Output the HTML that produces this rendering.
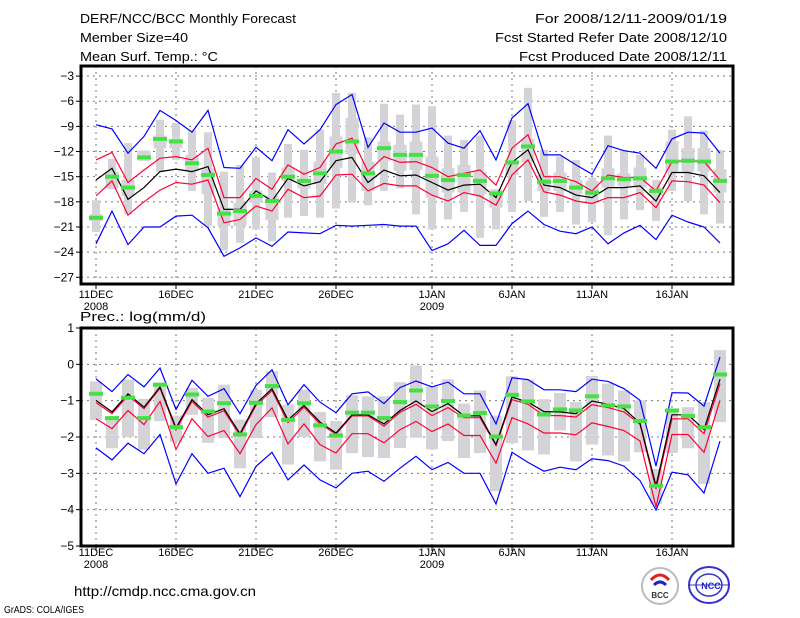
<!DOCTYPE html>
<html><head><meta charset="utf-8"><title>DERF Monthly Forecast</title>
<style>
html,body{margin:0;padding:0;background:#fff;}
svg{display:block;font-family:"Liberation Sans",sans-serif;}
</style></head>
<body>
<svg id="chart" width="800" height="618" viewBox="0 0 800 618" xmlns="http://www.w3.org/2000/svg">
<g font-size="13" fill="#000">
<text x="80" y="23" textLength="216" lengthAdjust="spacingAndGlyphs">DERF/NCC/BCC Monthly Forecast</text>
<text x="80" y="42" textLength="108" lengthAdjust="spacingAndGlyphs">Member Size=40</text>
<text x="80" y="61" textLength="138" lengthAdjust="spacingAndGlyphs">Mean Surf. Temp.: °C</text>
<text x="535" y="23" textLength="192" lengthAdjust="spacingAndGlyphs">For 2008/12/11-2009/01/19</text>
<text x="495" y="42" textLength="232" lengthAdjust="spacingAndGlyphs">Fcst Started Refer Date 2008/12/10</text>
<text x="519" y="61" textLength="208" lengthAdjust="spacingAndGlyphs">Fcst Produced Date 2008/12/11</text>
</g>
<g id="top"></g>
<g id="bot"></g>
<text x="80" y="321" font-size="13" textLength="126" lengthAdjust="spacingAndGlyphs">Prec.: log(mm/d)</text>
<text x="74" y="596" font-size="14" textLength="182" lengthAdjust="spacingAndGlyphs">http://cmdp.ncc.cma.gov.cn</text>
<text x="4" y="613" font-size="10" textLength="80" lengthAdjust="spacingAndGlyphs">GrADS: COLA/IGES</text>
<g>
<circle cx="660" cy="586" r="18" fill="#fff" stroke="#bbb" stroke-width="2"/>
<path d="M651 580 q9 -10 18 0" fill="none" stroke="#d22" stroke-width="3"/>
<path d="M654 585 q6 -6 12 0" fill="none" stroke="#22c" stroke-width="3"/>
<text x="660" y="598" font-size="8" font-weight="bold" text-anchor="middle" fill="#333">BCC</text>
</g>
<g>
<ellipse cx="709" cy="585" rx="20" ry="18" fill="#fff" stroke="#33c" stroke-width="2"/>
<ellipse cx="709" cy="585" rx="13" ry="11" fill="none" stroke="#33c" stroke-width="1.5"/>
<line x1="690" y1="585" x2="728" y2="585" stroke="#33c"/>
<text x="711" y="589" font-size="9" font-weight="bold" text-anchor="middle" fill="#22c">NCC</text>
</g>
</svg>
<script>
// ---------- Temperature panel data ----------
var tMax=[-8.8,-9.3,-12.2,-10.2,-7.1,-8.3,-9.7,-7.1,-13.9,-14.0,-11.5,-13.1,-9.4,-11.1,-9.4,-6.4,-5.2,-11.5,-8.6,-9.7,-9.7,-9.2,-11.0,-11.6,-9.5,-13.0,-8.0,-6.3,-12.4,-12.4,-13.6,-14.7,-11.3,-11.9,-12.2,-14.0,-10.5,-9.7,-9.8,-12.2];
var tUp=[-13.0,-12.1,-15.7,-14.2,-12.8,-12.6,-13.0,-11.6,-17.5,-17.5,-15.2,-16.5,-13.6,-14.7,-13.9,-11.1,-10.4,-14.4,-12.6,-13.3,-13.2,-13.9,-15.0,-14.6,-14.2,-16.0,-11.6,-10.0,-15.0,-15.0,-15.6,-16.7,-14.8,-15.1,-15.1,-16.7,-13.2,-13.1,-13.2,-15.4];
var tMean=[-15.4,-14.0,-17.7,-16.3,-14.4,-14.1,-14.4,-13.8,-18.9,-18.9,-16.7,-17.9,-15.2,-16.1,-15.6,-13.1,-12.7,-15.7,-14.2,-14.9,-14.8,-15.7,-16.6,-16.0,-15.9,-17.5,-13.3,-11.8,-16.0,-16.3,-17.2,-17.5,-16.3,-16.3,-16.1,-17.9,-14.5,-14.5,-14.9,-16.9];
var tLow=[-17.3,-15.5,-19.6,-18.0,-16.6,-15.7,-15.9,-15.4,-20.5,-20.1,-18.5,-19.1,-16.5,-17.5,-17.3,-14.8,-14.7,-16.7,-15.8,-16.1,-16.1,-17.2,-17.9,-16.9,-17.3,-18.4,-14.8,-13.0,-16.8,-17.2,-17.9,-18.2,-17.5,-17.5,-16.9,-18.7,-15.5,-15.6,-16.0,-18.1];
var tMin=[-23.0,-19.1,-23.1,-21.0,-21.0,-19.7,-19.6,-21.1,-24.5,-23.5,-22.3,-23.3,-21.6,-21.7,-21.8,-20.8,-20.9,-20.8,-20.7,-20.9,-20.9,-23.8,-23.0,-21.4,-23.2,-23.2,-20.6,-19.1,-20.7,-21.5,-21.8,-21.0,-23.0,-21.7,-20.8,-22.5,-19.6,-20.4,-21.0,-22.9];
var tObs=[-19.9,-15.0,-16.3,-12.7,-10.5,-10.8,-13.4,-14.8,-19.4,-19.1,-17.3,-17.9,-15.0,-15.5,-14.6,-12.0,-10.8,-14.6,-11.6,-12.4,-12.4,-14.9,-15.4,-14.8,-15.5,-17.0,-13.3,-11.4,-15.6,-15.5,-16.3,-16.9,-15.2,-15.3,-15.2,-16.7,-13.2,-13.1,-13.2,-15.5];
var tBarHi=[-17.8,-12.9,-11.0,-11.9,-8.2,-8.6,-9.4,-9.7,-14.4,-13.6,-12.7,-14.5,-11.1,-11.8,-9.4,-5.0,-5.0,-10.3,-6.3,-7.6,-6.4,-6.6,-10.1,-10.6,-10.1,-16.5,-8.3,-4.4,-11.8,-12.6,-13.0,-15.1,-10.1,-11.8,-12.4,-15.4,-9.4,-7.8,-9.5,-11.8];
var tBarLo=[-21.6,-16.5,-19.5,-13.1,-14.4,-13.0,-16.7,-20.9,-23.8,-22.9,-21.3,-22.7,-19.9,-19.7,-19.9,-18.8,-18.1,-18.4,-16.7,-16.4,-19.5,-21.3,-20.1,-19.2,-22.3,-21.3,-19.2,-17.9,-19.8,-19.2,-20.7,-20.4,-22.0,-20.1,-19.0,-20.3,-16.7,-17.9,-19.5,-20.6];
var tBoxHi=[-19.5,-14.4,-15.4,-11.9,-10.1,-10.5,-12.4,-14.0,-18.7,-18.1,-16.7,-17.3,-13.9,-15.4,-13.2,-10.2,-8.0,-13.2,-10.8,-11.2,-10.8,-12.6,-14.0,-13.6,-14.4,-16.5,-13.2,-10.5,-14.8,-14.5,-15.4,-15.5,-14.0,-14.6,-13.9,-16.3,-10.8,-11.6,-11.6,-14.1];
var tBoxLo=[-20.3,-16.4,-17.3,-13.1,-11.6,-11.6,-14.4,-17.1,-20.9,-20.9,-18.1,-20.2,-15.5,-16.4,-15.9,-14.0,-12.3,-16.7,-13.1,-14.3,-14.2,-17.5,-16.9,-16.9,-17.1,-18.7,-14.8,-13.3,-16.7,-16.7,-17.1,-17.9,-16.3,-16.1,-16.3,-17.3,-14.4,-14.4,-14.4,-16.9];
var tTicks=[-3,-6,-9,-12,-15,-18,-21,-24,-27];
// ---------- Precipitation panel data ----------
var pMax=[-0.40,-0.75,-0.28,-0.62,-0.10,-1.24,-0.44,-0.88,-0.67,-1.36,-0.58,-0.15,-1.11,-0.56,-1.04,-1.33,-0.81,-0.76,-1.08,-0.64,-0.46,-0.62,-0.49,-0.81,-0.81,-1.64,-0.37,-0.42,-0.70,-0.70,-0.75,-0.41,-0.47,-0.67,-0.99,-2.80,-0.78,-0.79,-1.15,0.20];
var pUp=[-1.05,-1.36,-0.86,-1.22,-0.66,-1.80,-1.02,-1.45,-1.28,-1.96,-1.13,-0.72,-1.60,-1.18,-1.64,-1.92,-1.42,-1.42,-1.70,-1.32,-1.10,-1.41,-1.19,-1.47,-1.47,-2.23,-0.97,-1.10,-1.41,-1.41,-1.45,-1.11,-1.19,-1.31,-1.65,-3.43,-1.50,-1.50,-1.91,-0.53];
var pMean=[-0.99,-1.31,-0.81,-1.18,-0.62,-1.75,-0.97,-1.39,-1.22,-1.91,-1.08,-0.67,-1.53,-1.13,-1.59,-1.89,-1.39,-1.39,-1.64,-1.27,-1.01,-1.30,-1.08,-1.42,-1.42,-2.21,-0.90,-1.04,-1.30,-1.31,-1.36,-1.01,-1.10,-1.22,-1.62,-3.34,-1.39,-1.39,-1.79,-0.41];
var pLow=[-1.50,-1.77,-1.27,-1.66,-1.02,-2.34,-1.50,-1.99,-1.82,-2.46,-1.66,-1.20,-2.19,-1.64,-2.21,-2.44,-1.91,-1.91,-2.16,-1.80,-1.57,-1.85,-1.64,-1.96,-1.96,-2.72,-1.47,-1.64,-1.89,-1.89,-1.94,-1.61,-1.71,-1.82,-2.11,-3.93,-1.93,-1.93,-2.42,-0.99];
var pMin=[-2.30,-2.63,-2.17,-2.46,-1.93,-3.29,-2.46,-3.00,-2.86,-3.64,-2.81,-2.42,-3.18,-2.77,-3.18,-3.40,-3.00,-2.94,-3.22,-2.86,-2.53,-2.90,-2.70,-3.00,-3.00,-3.84,-2.42,-2.70,-2.94,-2.83,-2.90,-2.60,-2.65,-2.80,-3.20,-4.01,-2.97,-3.04,-3.54,-2.11];
var pObs=[-0.81,-1.48,-0.92,-1.48,-0.56,-1.73,-0.83,-1.30,-1.07,-1.93,-1.06,-0.60,-1.53,-1.07,-1.68,-1.96,-1.33,-1.33,-1.48,-1.04,-0.72,-1.16,-1.01,-1.41,-1.34,-1.99,-0.84,-1.02,-1.38,-1.24,-1.27,-0.88,-1.13,-1.16,-1.56,-3.34,-1.27,-1.42,-1.73,-0.28];
var pBarHi=[-0.47,-1.45,-0.42,-0.95,-0.51,-1.41,-0.65,-0.92,-0.56,-1.52,-0.70,-0.19,-1.11,-0.70,-1.31,-1.56,-0.85,-0.88,-0.88,-0.49,-0.03,-0.61,-0.41,-1.08,-0.72,-1.41,-0.33,-0.42,-0.96,-0.79,-1.04,-0.32,-0.53,-0.72,-0.99,-2.88,-1.22,-1.18,-1.04,0.39];
var pBarLo=[-1.53,-2.31,-2.00,-2.35,-1.56,-2.14,-1.39,-2.16,-2.03,-2.86,-2.03,-1.45,-2.76,-2.00,-2.67,-2.90,-2.44,-2.55,-2.58,-2.30,-2.02,-2.34,-2.11,-2.58,-2.44,-3.49,-2.17,-2.37,-2.48,-1.82,-2.67,-2.21,-2.51,-2.67,-2.42,-3.84,-2.44,-2.31,-3.29,-1.59];
var pTicks=[1,0,-1,-2,-3,-4,-5];
// ---------- Shared x axis ----------
var dayLabels=["11DEC","16DEC","21DEC","26DEC","1JAN","6JAN","11JAN","16JAN"];
var dayLabelIdx=[0,5,10,15,21,26,31,36];
var yearLabels=["2008","2009"];
var yearLabelIdx=[0,21];

var NS="http://www.w3.org/2000/svg";
function mk(parent,tag,attrs){var e=document.createElementNS(NS,tag);for(var k in attrs)e.setAttribute(k,attrs[k]);parent.appendChild(e);return e;}
function xOf(i){return 96+16*i;}
var L=81,R=733;

function panel(g,top,bot,vTop,vBot,ticks,S,labY){
  function y(v){return top+(vTop-v)*(bot-top)/(vTop-vBot);}
  var grid=mk(g,'g',{});
  
  
  ticks.forEach(function(t){
    var ln=mk(grid,'line',{x1:L,x2:R,y1:y(t),y2:y(t),stroke:'#777','stroke-dasharray':'2,4','stroke-width':1});
    
    
    var tk=mk(g,'line',{x1:L-5,x2:L,y1:y(t),y2:y(t),stroke:'#000'});
    
    
    var tx=mk(g,'text',{x:L-7,y:y(t)+4,'font-size':12,'text-anchor':'end'});
    tx.textContent=(t<0?'\u2212':'')+Math.abs(t);
    
    
  });
  dayLabelIdx.forEach(function(d,k){
    var ln=mk(grid,'line',{x1:xOf(d),x2:xOf(d),y1:top,y2:bot,stroke:'#777','stroke-dasharray':'2,4'});
    
    
    var tk=mk(g,'line',{x1:xOf(d),x2:xOf(d),y1:bot,y2:bot+5,stroke:'#000'});
    
    
    var tx=mk(g,'text',{x:xOf(d),y:labY,'font-size':11,'text-anchor':'middle'});
    tx.textContent=dayLabels[k];
    
    
  });
  yearLabelIdx.forEach(function(d,k){
    var tx=mk(g,'text',{x:xOf(d),y:labY+12,'font-size':11,'text-anchor':'middle'});
    tx.textContent=yearLabels[k];
    
    
  });
  // bars
  for(var i=0;i<S.barHi.length;i++){
    var b=mk(g,'rect',{x:xOf(i)-S.bw/2,y:y(S.barHi[i]),width:S.bw,height:Math.max(1,y(S.barLo[i])-y(S.barHi[i])),fill:'#d4d4d8'});
    
    
    if(S.boxHi){
      var bx=mk(g,'rect',{x:xOf(i)-6.5,y:y(S.boxHi[i]),width:13,height:Math.max(1,y(S.boxLo[i])-y(S.boxHi[i])),fill:'#d4d4d8'});
      
      
    }
  }
  function line(arr,col,name){
    var d=arr.map(function(v,i){return (i?'L':'M')+xOf(i)+' '+y(v).toFixed(1);}).join(' ');
    var p=mk(g,'path',{d:d,fill:'none',stroke:col,'stroke-width':1.2});
    
    
  }
  line(S.max,'#0000ff','max-line');
  line(S.min,'#0000ff','min-line');
  line(S.up,'#ff0033','upper-line');
  line(S.low,'#ff0033','lower-line');
  line(S.mean,'#000','mean-line');
  S.obs.forEach(function(v,i){
    var m=mk(g,'rect',{x:xOf(i)-7,y:y(v)-2,width:14,height:4,fill:'#44e044'});
    
    
  });
  var f=mk(g,'rect',{x:L,y:top,width:R-L,height:bot-top,fill:'none',stroke:'#000','stroke-width':3});
  
  
}
panel(document.getElementById('top'),66,284,-1.8,-27.8,tTicks,
  {max:tMax,up:tUp,mean:tMean,low:tLow,min:tMin,obs:tObs,barHi:tBarHi,barLo:tBarLo,boxHi:tBoxHi,boxLo:tBoxLo,bw:8},298);
panel(document.getElementById('bot'),328,546,1,-5,pTicks,
  {max:pMax,up:pUp,mean:pMean,low:pLow,min:pMin,obs:pObs,barHi:pBarHi,barLo:pBarLo,bw:12},556);
</script>
</body></html>
